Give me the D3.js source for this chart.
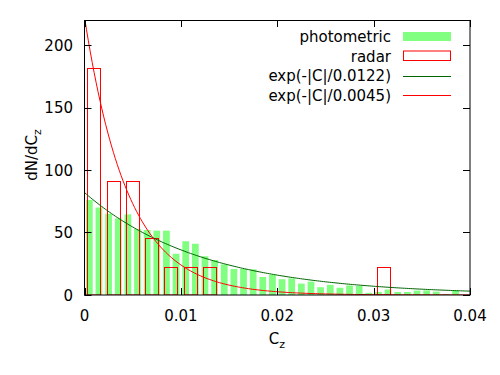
<!DOCTYPE html>
<html><head><meta charset="utf-8">
<script src="https://cdn.jsdelivr.net/npm/d3@7"></script>
<style>body{margin:0;background:#fff}text{font-family:"DejaVu Sans",sans-serif;font-size:15px;fill:#000}</style>
</head><body><svg id="c" width="500" height="375"></svg>
<script>
// bin centres and densities (dN/dC_z)
const photoCenters = [0.0005,0.0015,0.0025,0.0035,0.0045,0.0055,0.0065,0.0075,0.0085,0.0095,0.0105,0.0115,0.0125,0.0135,0.0145,0.0155,0.0165,0.0175,0.0185,0.0195,0.0205,0.0215,0.0225,0.0235,0.0245,0.0255,0.0265,0.0275,0.0285,0.0295,0.0305,0.0315,0.0325,0.0335,0.0345,0.0355,0.0365,0.0375,0.0385];
const photoValues  = [76,70,65,61.3,64.5,52.8,52,51.5,51.5,33,43,41,31,28,24.5,20.8,20.8,20.5,14.4,16.2,12.6,13.3,9.1,10.7,6.2,8.1,5.8,7.6,7.2,1.7,2.4,4.4,2.4,2.4,3.5,3.7,2.7,0.8,3.7];
const radarCenters = [0.001,0.003,0.005,0.007,0.009,0.011,0.013,0.031];
const radarValues  = [181.8,90.9,90.9,45.5,22.7,22.7,22.7,22.7];
const photoBin = 0.001, radarBin = 0.002, boxFrac = 0.7;
const decayScales = [0.0122, 0.0045];
const curveLabels = ["exp(-|C|/0.0122)", "exp(-|C|/0.0045)"];
const xTicks = [0,0.01,0.02,0.03,0.04];
const yTicks = [0,50,100,150,200];

const svg = d3.select("#c");
const L=84.5, R=470, T=20, B=295;
const x = d3.scaleLinear().domain([0,0.04]).range([L,R]);
const y = d3.scaleLinear().domain([0,220]).range([B,T]);

svg.append("defs").append("clipPath").attr("id","clip").append("rect")
  .attr("x",L).attr("y",T).attr("width",R-L).attr("height",B-T);
const g = svg.append("g").attr("clip-path","url(#clip)");

// photometric bars
g.selectAll(".p").data(photoCenters).enter().append("rect")
  .attr("x",(d)=>x(d-photoBin*boxFrac/2))
  .attr("width",(d)=>x(d+photoBin*boxFrac/2)-x(d-photoBin*boxFrac/2))
  .attr("y",(d,i)=>y(photoValues[i]))
  .attr("height",(d,i)=>B-y(photoValues[i]))
  .attr("fill","#80ff80");
// radar boxes
g.selectAll(".r").data(radarCenters).enter().append("rect")
  .attr("x",(d)=>Math.round(x(d-radarBin*boxFrac/2))+0.5)
  .attr("width",(d)=>Math.round(x(d+radarBin*boxFrac/2)-x(d-radarBin*boxFrac/2)))
  .attr("y",(d,i)=>Math.round(y(radarValues[i]))+0.5)
  .attr("height",(d,i)=>B-Math.round(y(radarValues[i]))-0.5)
  .attr("fill","none").attr("stroke","#ff0000").attr("stroke-width",1);

const curveColors = ["#006400","#ff0000"];
const xs = d3.range(0,0.04001,0.0002);
decayScales.forEach((lam,k)=>{
  const line = d3.line().x(d=>x(d)).y(d=>y(Math.exp(-Math.abs(d)/lam)/lam));
  g.append("path").datum(xs).attr("d",line).attr("fill","none")
   .attr("stroke",curveColors[k]).attr("stroke-width",1);
});

// border and ticks
const ax = svg.append("g").attr("stroke","#000").attr("stroke-width",1).attr("fill","none");
ax.append("rect").attr("x",L).attr("y",T+0.5).attr("width",R-L).attr("height",B-T-0.5);
const tl=7;
xTicks.forEach(t=>{
  const px=Math.round(x(t))+0.5;
  ax.append("line").attr("x1",px).attr("x2",px).attr("y1",B).attr("y2",B-tl);
  ax.append("line").attr("x1",px).attr("x2",px).attr("y1",T).attr("y2",T+tl);
  svg.append("text").attr("x",x(t)).attr("y",321).attr("text-anchor","middle").text(t===0?"0":t.toString());
});
yTicks.forEach(t=>{
  const py=Math.round(y(t))+0.5;
  ax.append("line").attr("x1",L).attr("x2",L+tl).attr("y1",py).attr("y2",py);
  ax.append("line").attr("x1",R).attr("x2",R-tl).attr("y1",py).attr("y2",py);
  svg.append("text").attr("x",73).attr("y",y(t)+5.5).attr("text-anchor","end").text(t);
});

// axis labels
const xl = svg.append("text").attr("x",277).attr("y",344).attr("text-anchor","middle");
xl.append("tspan").text("C");
xl.append("tspan").attr("dy",4).attr("font-size","11px").text("z");
const yl = svg.append("text").attr("transform","translate(37,155) rotate(-90)").attr("text-anchor","middle");
yl.append("tspan").text("dN/dC");
yl.append("tspan").attr("dy",4).attr("font-size","11px").text("z");

// legend
const legItems = ["photometric","radar"].concat(curveLabels);
legItems.forEach((lab,i)=>{
  const cy = 36.5 + i*19.5;
  svg.append("text").attr("x",391).attr("y",cy+5.5).attr("text-anchor","end").text(lab);
  if(i===0) svg.append("rect").attr("x",403).attr("y",cy-4.5).attr("width",48).attr("height",9).attr("fill","#80ff80");
  else if(i===1) svg.append("rect").attr("x",403.5).attr("y",cy-5).attr("width",47).attr("height",9.5).attr("fill","none").attr("stroke","#ff0000");
  else svg.append("line").attr("x1",403).attr("x2",451).attr("y1",Math.round(cy)+0.5).attr("y2",Math.round(cy)+0.5).attr("stroke",curveColors[i-2]);
});
</script></body></html>
